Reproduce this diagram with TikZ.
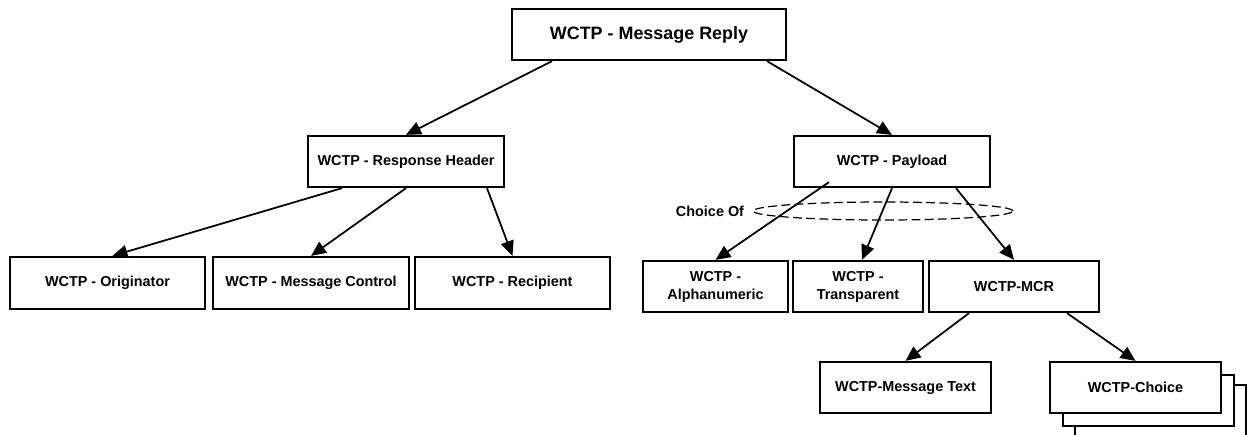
\documentclass[tikz,border=0pt]{standalone}
\usepackage{fontspec}
\setmainfont{Liberation Sans}
\usetikzlibrary{arrows.meta,calc,shapes.geometric,shadows}
\begin{document}
\begin{tikzpicture}[x=0.02cm, y=-0.02cm,
    box/.style={draw, line width=1.3pt, fill=white, minimum height=1.02cm,
        inner sep=1pt, align=center, font=\fontsize{8.2}{10.2}\selectfont\bfseries},
    link/.style={line width=1pt, -{Triangle[length=8.5pt,width=7.5pt]}}]
    \useasboundingbox (0,0) rectangle (1248,434);
    \node[box, minimum width=5.48cm, font=\fontsize{10.2}{12}\selectfont\bfseries]
        (reply) at (649,34.5) {WCTP - Message Reply};
    \node[box, minimum width=3.92cm] (hdr) at (406,161.5) {WCTP - Response Header};
    \node[box, minimum width=3.92cm] (pay) at (892,161.5) {WCTP - Payload};
    \node[box, minimum width=3.9cm, minimum height=1.04cm] (orig) at (107.5,283) {WCTP - Originator};
    \node[box, minimum width=3.92cm, minimum height=1.04cm] (msgctl) at (311,283) {WCTP - Message Control};
    \node[box, minimum width=3.9cm, minimum height=1.04cm] (recip) at (512.5,283) {WCTP - Recipient};
    \node[box, minimum width=2.9cm] (alpha) at (715.5,286.5) {WCTP -\\Alphanumeric};
    \node[box, minimum width=2.6cm] (transp) at (858,286.5) {WCTP -\\Transparent};
    \node[box, minimum width=3.4cm] (mcr) at (1014,286.5) {WCTP-MCR};
    \node[box, minimum width=3.42cm] (msgtext) at (905.5,387.5) {WCTP-Message Text};
    \node[box, minimum width=3.42cm,
        copy shadow={shadow xshift=0.5cm, shadow yshift=-0.46cm, line width=1.3pt},
        copy shadow={shadow xshift=0.26cm, shadow yshift=-0.26cm, line width=1.3pt}]
        (choice) at (1135.5,387.5) {WCTP-Choice};
    \node[draw, dashed, ellipse, line width=0.7pt, dash pattern=on 5pt off 2.5pt,
        minimum width=5.2cm, minimum height=0.36cm, inner sep=0pt] (choiceof) at (883,211) {};
    \node[font=\fontsize{8.2}{10.2}\selectfont\bfseries] (choicelbl) at (710,211) {Choice Of};
    \draw[link] ($(reply.south)+(-97,0)$) -- (hdr.north);
    \draw[link] ($(reply.south)+(118,0)$) -- (pay.north);
    \draw[link] ($(hdr.south)+(-64,0)$) -- ($(orig.north)+(5,0)$);
    \draw[link] (hdr.south) -- (msgctl.north);
    \draw[link] ($(hdr.south)+(81,0)$) -- (recip.north);
    \draw[link] ($(pay.south)+(-63,-6)$) -- (alpha.north);
    \draw[link] (pay.south) -- ($(transp.north)+(4,0)$);
    \draw[link] ($(pay.south)+(64,0)$) -- (mcr.north);
    \draw[link] ($(mcr.south)+(-45,0)$) -- (msgtext.north);
    \draw[link] ($(mcr.south)+(53,0)$) -- (choice.north);
\end{tikzpicture}
\end{document}
